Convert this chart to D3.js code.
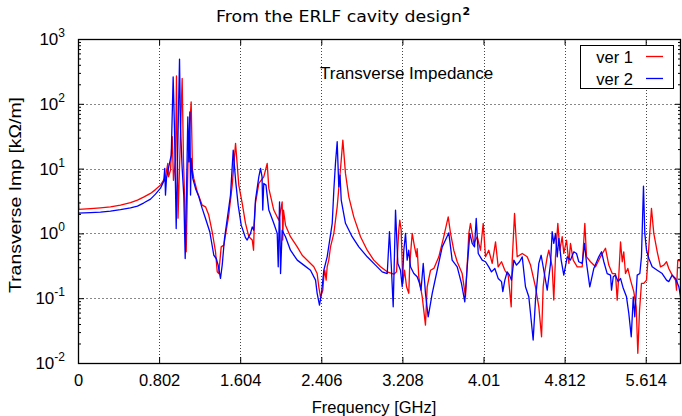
<!DOCTYPE html>
<html><head><meta charset="utf-8">
<script src="https://cdn.jsdelivr.net/npm/d3@7"></script>
<style>
body{margin:0;background:#fff;}
svg{display:block;font-family:"Liberation Sans",Arial,sans-serif;}
</style></head>
<body><svg id="c" width="682" height="416"></svg>
<script>
const xTicks = [0, 0.802, 1.604, 2.406, 3.208, 4.01, 4.812, 5.614];
const xTickLabels = ["0", "0.802", "1.604", "2.406", "3.208", "4.01", "4.812", "5.614"];
const yTickExps = [-2, -1, 0, 1, 2, 3];
const seriesNames = ["ver 1", "ver 2"];
const seriesColors = ["#ff0000", "#0000ff"];

// [frequency GHz, transverse impedance kOhm/m]
const ver1 = [[0,4.6],[0.008,2.35],[0.124,2.41],[0.222,2.48],[0.321,2.57],[0.420,2.73],[0.519,2.99],[0.588,3.27],[0.648,3.63],[0.717,4.14],[0.766,4.74],[0.816,5.56],[0.865,7.4],[0.888,12.0],[0.895,7.47],[0.915,9.5],[0.932,31],[0.944,6.6],[0.964,13.5],[0.974,270],[0.989,1.72],[1.009,19.4],[1.030,246],[1.043,13.5],[1.070,0.52],[1.088,13.5],[1.103,39],[1.119,107],[1.132,9.5],[1.145,7.06],[1.179,4.39],[1.228,2.73],[1.261,2.57],[1.293,1.92],[1.327,1.06],[1.360,0.52],[1.377,0.255],[1.392,0.24],[1.416,0.62],[1.442,0.66],[1.491,1.92],[1.525,5.56],[1.558,24.5],[1.590,5.56],[1.624,2.9],[1.656,1.44],[1.689,0.89],[1.723,0.79],[1.736,0.55],[1.743,1.34],[1.755,2.94],[1.788,5.9],[1.837,7.47],[1.871,12.0],[1.887,4.95],[1.936,2.29],[1.986,1.6],[2.019,3.07],[2.025,0.79],[2.032,2.29],[2.052,1.34],[2.101,0.89],[2.168,0.62],[2.217,0.46],[2.282,0.365],[2.332,0.305],[2.365,0.24],[2.381,0.15],[2.398,0.105],[2.421,0.133],[2.431,0.214],[2.441,0.27],[2.454,0.19],[2.464,0.305],[2.480,0.387],[2.497,0.62],[2.530,1.0],[2.563,2.57],[2.589,7.47],[2.603,13.5],[2.619,27.5],[2.645,8.43],[2.678,3.67],[2.727,1.8],[2.794,0.89],[2.860,0.55],[2.925,0.387],[2.992,0.305],[3.058,0.255],[3.123,0.235],[3.150,0.255],[3.172,1.12],[3.182,1.6],[3.196,1.12],[3.212,0.169],[3.229,0.27],[3.249,0.15],[3.271,0.119],[3.281,0.344],[3.305,1.0],[3.328,0.62],[3.348,0.44],[3.354,0.58],[3.370,0.214],[3.404,0.105],[3.436,0.0385],[3.453,0.15],[3.486,0.27],[3.519,0.288],[3.568,0.435],[3.617,0.89],[3.661,1.8],[3.684,1.0],[3.716,0.55],[3.750,0.365],[3.799,0.24],[3.832,0.105],[3.865,1.0],[3.881,1.43],[3.914,0.70],[3.948,0.89],[3.980,0.55],[4.007,1.43],[4.030,0.435],[4.062,0.55],[4.096,0.344],[4.129,0.74],[4.155,0.305],[4.188,0.365],[4.221,0.27],[4.254,0.227],[4.284,0.0736],[4.294,0.387],[4.317,2.04],[4.343,0.435],[4.393,0.49],[4.442,0.435],[4.475,0.324],[4.524,0.15],[4.557,0.0736],[4.584,0.0254],[4.600,0.15],[4.616,0.255],[4.640,0.435],[4.656,0.55],[4.689,0.305],[4.705,0.0935],[4.722,0.435],[4.745,1.43],[4.765,0.55],[4.788,0.89],[4.804,0.49],[4.831,0.79],[4.854,0.344],[4.870,0.70],[4.897,0.387],[4.937,0.305],[4.986,0.305],[5.012,1.43],[5.029,0.435],[5.068,0.365],[5.118,0.305],[5.167,0.435],[5.216,0.59],[5.249,0.324],[5.283,0.24],[5.315,0.24],[5.332,0.0935],[5.348,0.227],[5.365,0.74],[5.382,0.365],[5.397,0.52],[5.414,0.24],[5.437,0.288],[5.464,0.19],[5.496,0.126],[5.520,0.0736],[5.536,0.0141],[5.553,0.0655],[5.572,0.169],[5.595,0.169],[5.622,0.19],[5.645,0.62],[5.671,2.43],[5.694,1.0],[5.728,0.52],[5.760,0.305],[5.793,0.324],[5.820,0.365],[5.842,0.288],[5.876,0.227],[5.909,0.19],[5.919,0.133],[5.931,0.387],[5.975,0.365]];

const ver2 = [[0,2.06],[0.124,2.09],[0.222,2.13],[0.321,2.21],[0.420,2.33],[0.519,2.48],[0.588,2.64],[0.648,2.94],[0.717,3.38],[0.766,4.04],[0.816,5.0],[0.848,6.41],[0.858,10.1],[0.865,3.9],[0.875,7.13],[0.898,10.7],[0.922,16.2],[0.941,261],[0.954,42],[0.971,1.19],[0.987,23],[1.004,490],[1.014,41.7],[1.030,10.1],[1.046,3.9],[1.060,0.41],[1.073,4.39],[1.086,63],[1.096,12.7],[1.106,75],[1.113,3.9],[1.119,14.4],[1.135,7.06],[1.162,4.95],[1.195,3.67],[1.228,2.43],[1.261,1.7],[1.303,1.06],[1.343,0.46],[1.367,0.41],[1.386,0.324],[1.409,0.202],[1.426,0.324],[1.449,0.84],[1.481,1.92],[1.508,3.9],[1.535,19.3],[1.558,6.65],[1.584,2.73],[1.614,1.34],[1.656,0.86],[1.673,0.79],[1.706,1.0],[1.723,1.26],[1.738,1.12],[1.755,3.27],[1.788,7.47],[1.805,10.1],[1.820,7.47],[1.827,2.29],[1.837,5.9],[1.859,5.56],[1.887,2.29],[1.936,1.43],[1.970,1.0],[1.980,0.305],[1.993,3.07],[2.003,0.24],[2.019,1.12],[2.052,0.89],[2.101,0.55],[2.168,0.387],[2.233,0.324],[2.299,0.27],[2.349,0.19],[2.365,0.119],[2.388,0.078],[2.408,0.119],[2.431,0.27],[2.464,0.435],[2.514,1.43],[2.530,4.66],[2.546,12.0],[2.563,26],[2.579,5.24],[2.591,7.94],[2.603,3.27],[2.645,1.43],[2.711,0.89],[2.777,0.62],[2.860,0.435],[2.942,0.324],[3.008,0.255],[3.058,0.24],[3.080,1.06],[3.097,0.344],[3.117,0.0736],[3.140,2.29],[3.163,0.344],[3.189,0.27],[3.206,0.15],[3.222,0.55],[3.239,1.0],[3.255,0.387],[3.271,0.55],[3.288,0.305],[3.321,0.24],[3.354,0.214],[3.377,0.17],[3.392,0.133],[3.414,0.344],[3.436,0.119],[3.463,0.0516],[3.503,0.119],[3.552,0.27],[3.602,0.62],[3.634,0.79],[3.667,1.02],[3.700,0.387],[3.750,0.305],[3.792,0.169],[3.825,0.088],[3.849,0.305],[3.875,1.0],[3.898,0.70],[3.921,0.62],[3.938,1.7],[3.958,0.49],[3.997,0.387],[4.030,0.365],[4.062,0.305],[4.089,0.255],[4.122,0.288],[4.155,0.202],[4.188,0.18],[4.201,0.126],[4.221,0.19],[4.244,0.255],[4.267,0.227],[4.287,0.19],[4.310,0.387],[4.336,0.324],[4.366,0.365],[4.393,0.435],[4.425,0.15],[4.458,0.105],[4.475,0.058],[4.501,0.0226],[4.524,0.0935],[4.557,0.344],[4.580,0.46],[4.606,0.27],[4.640,0.133],[4.673,0.344],[4.689,1.06],[4.705,0.70],[4.722,1.0],[4.739,0.435],[4.755,0.84],[4.778,0.387],[4.804,0.227],[4.838,0.435],[4.870,0.387],[4.903,0.52],[4.930,0.49],[4.952,0.365],[4.986,0.344],[5.009,0.70],[5.029,0.344],[5.061,0.15],[5.101,0.288],[5.150,0.435],[5.177,0.52],[5.200,0.365],[5.233,0.24],[5.266,0.227],[5.276,0.133],[5.293,0.214],[5.315,0.227],[5.342,0.18],[5.365,0.202],[5.392,0.142],[5.424,0.105],[5.447,0.058],[5.471,0.0254],[5.491,0.105],[5.506,0.0516],[5.530,0.227],[5.556,0.24],[5.572,0.435],[5.592,5.37],[5.605,1.0],[5.622,0.55],[5.645,0.41],[5.678,0.305],[5.728,0.27],[5.777,0.24],[5.820,0.19],[5.842,0.18],[5.876,0.227],[5.909,0.202],[5.942,0.15],[5.975,0.0736]];

const W = 682, H = 416;
const m = {left: 78, top: 39, right: 1, bottom: 53};
const pw = W - m.left - m.right, ph = H - m.top - m.bottom;
const svg = d3.select("#c");
const x = d3.scaleLinear().domain([0, 5.963]).range([m.left, m.left + pw]);
const y = d3.scaleLog().domain([1e-2, 1e3]).range([m.top + ph, m.top]);

// grid
const g = svg.append("g");
g.selectAll(".vg").data(xTicks.slice(1)).join("line")
  .attr("x1", d => Math.round(x(d)) + 0.5).attr("x2", d => Math.round(x(d)) + 0.5).attr("y1", m.top).attr("y2", m.top + ph)
  .attr("stroke", "#444").attr("stroke-width", 1).attr("stroke-dasharray", "1,2");
g.selectAll(".hg").data(yTickExps.slice(1, -1)).join("line")
  .attr("x1", m.left).attr("x2", m.left + pw).attr("y1", d => Math.round(y(Math.pow(10, d))) + 0.5).attr("y2", d => Math.round(y(Math.pow(10, d))) + 0.5)
  .attr("stroke", "#888").attr("stroke-width", 1).attr("stroke-dasharray", "2,2");

// data lines
svg.append("clipPath").attr("id", "clip").append("rect")
  .attr("x", m.left).attr("y", m.top).attr("width", pw).attr("height", ph);
const line = d3.line().x(d => x(d[0])).y(d => y(d[1]));
[ver1, ver2].forEach((s, i) => {
  svg.append("path").datum(s).attr("d", line).attr("fill", "none")
    .attr("stroke", seriesColors[i]).attr("stroke-width", 1.3)
    .attr("stroke-linejoin", "round").attr("clip-path", "url(#clip)");
});

// axes
const xb = svg.append("g").attr("transform", `translate(0,${m.top + ph})`)
  .call(d3.axisBottom(x).tickValues(xTicks).tickSizeInner(-6).tickSizeOuter(0).tickPadding(11)
    .tickFormat((d, i) => xTickLabels[i]));
xb.select(".domain").remove();
xb.selectAll("text").attr("font-size", 16.5).attr("fill", "#000").attr("font-family", "Liberation Sans, Arial, sans-serif");
const xt = svg.append("g").attr("transform", `translate(0,${m.top})`)
  .call(d3.axisTop(x).tickValues(xTicks).tickSizeInner(-6).tickSizeOuter(0).tickFormat(""));
xt.select(".domain").remove();

const minor = [];
yTickExps.slice(0, -1).forEach(e => { for (let k = 2; k <= 9; k++) minor.push(k * Math.pow(10, e)); });
const yl = svg.append("g").attr("transform", `translate(${m.left},0)`)
  .call(d3.axisLeft(y).tickValues(yTickExps.map(e => Math.pow(10, e))).tickSizeInner(-6).tickSizeOuter(0).tickFormat(""));
yl.select(".domain").remove();
const ylm = svg.append("g").attr("transform", `translate(${m.left},0)`)
  .call(d3.axisLeft(y).tickValues(minor).tickSizeInner(-3).tickSizeOuter(0).tickFormat(""));
ylm.select(".domain").remove();
const yr = svg.append("g").attr("transform", `translate(${m.left + pw},0)`)
  .call(d3.axisRight(y).tickValues(yTickExps.map(e => Math.pow(10, e))).tickSizeInner(-6).tickSizeOuter(0).tickFormat(""));
yr.select(".domain").remove();
const yrm = svg.append("g").attr("transform", `translate(${m.left + pw},0)`)
  .call(d3.axisRight(y).tickValues(minor).tickSizeInner(-3).tickSizeOuter(0).tickFormat(""));
yrm.select(".domain").remove();

// y tick labels 10^n
yTickExps.forEach(e => {
  const t = svg.append("text").attr("x", 65).attr("y", y(Math.pow(10, e)) + 6)
    .attr("text-anchor", "end").attr("font-size", 17).attr("fill", "#000");
  t.append("tspan").text("10");
  t.append("tspan").attr("dy", -8).attr("font-size", 12).text(String(e));
});

// frame
svg.append("rect").attr("x", m.left + 0.5).attr("y", m.top + 0.5).attr("width", pw - 1).attr("height", ph)
  .attr("fill", "none").attr("stroke", "#000").attr("stroke-width", 1.3);

// title
svg.append("text").attr("x", 216).attr("y", 22).attr("font-size", 16)
  .attr("font-family", "DejaVu Sans, sans-serif")
  .attr("textLength", 246).attr("lengthAdjust", "spacingAndGlyphs").text("From the ERLF cavity design");
svg.append("text").attr("x", 462.5).attr("y", 15).attr("font-size", 11).attr("font-weight", "bold")
  .attr("font-family", "DejaVu Sans, sans-serif").text("2");

// inner label
svg.append("text").attr("x", 320).attr("y", 79).attr("font-size", 17).text("Transverse Impedance");

// axis labels
svg.append("text").attr("x", 374).attr("y", 413).attr("text-anchor", "middle")
  .attr("font-size", 16.5).text("Frequency [GHz]");
svg.append("text").attr("transform", `translate(21,195) rotate(-90)`).attr("text-anchor", "middle")
  .attr("font-size", 17).attr("textLength", 196).attr("lengthAdjust", "spacingAndGlyphs")
  .text("Transverse Imp [kΩ/m]");

// legend
const lg = svg.append("g");
lg.append("rect").attr("x", 580.5).attr("y", 45.5).attr("width", 93).attr("height", 43)
  .attr("fill", "#fff").attr("stroke", "#000").attr("stroke-width", 1);
seriesNames.forEach((n, i) => {
  const cy = 56.5 + i * 22;
  lg.append("text").attr("x", 633).attr("y", cy + 6).attr("text-anchor", "end").attr("font-size", 16.5).text(n);
  lg.append("line").attr("x1", 646).attr("x2", 663).attr("y1", cy).attr("y2", cy)
    .attr("stroke", seriesColors[i]).attr("stroke-width", 1.3);
});
</script></body></html>
